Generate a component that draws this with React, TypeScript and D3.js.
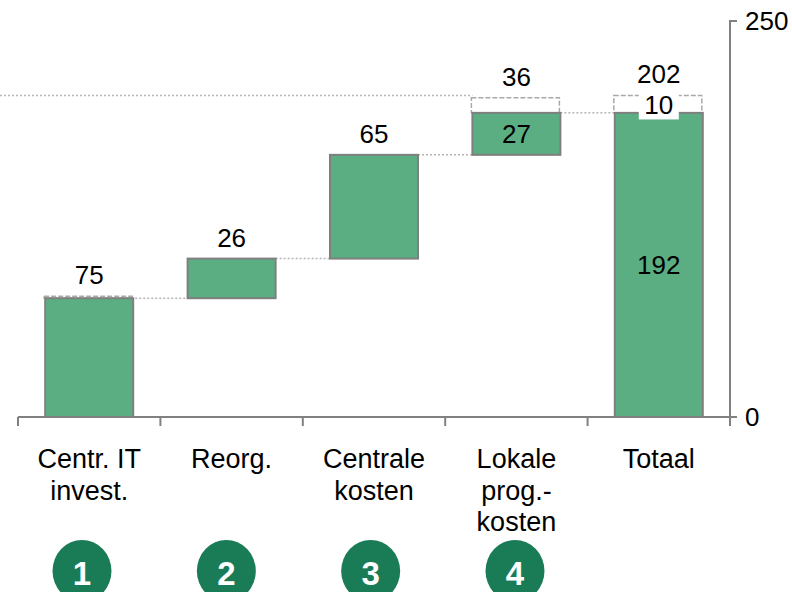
import React from "react";
import * as d3 from "d3";

const categories = ["Centr. IT\ninvest.", "Reorg.", "Centrale\nkosten", "Lokale\nprog.-\nkosten", "Totaal"];
const barStart = [0, 75, 100, 165.5, 0];
const barEnd = [75, 100, 165.5, 192, 192];
const dashEnd: (number | null)[] = [76.3, null, null, 201.6, 203];
const topLabels = ["75", "26", "65", "36", "202"];
const innerLabels: (string | null)[] = [null, null, null, "27", "192"];
const dashLabels: (string | null)[] = [null, null, null, null, "10"];
const yTicks = [0, 250];
const steps = ["1", "2", "3", "4"];

const W = 792;
const H = 592;
const FONT = "'Liberation Sans', Arial, sans-serif";
const GREEN = "#5aae82";
const DARK = "#1a7b57";

export default function App() {
  const y = d3.scaleLinear().domain([0, 250]).range([417, 21]);
  const x = d3
    .scaleBand<string>()
    .domain(categories)
    .range([18, 730])
    .paddingInner(0.382)
    .paddingOuter(0.191);
  const bw = x.bandwidth();
  const step = x.step();
  const cx = (c: string) => (x(c) as number) + bw / 2;
  const circleX = d3.scalePoint<string>().domain(steps).range([82, 515]);

  const boundaries = d3.range(categories.length + 1).map((i) => 18 + i * step);

  const connectors = categories.slice(0, -1).map((c, i) => {
    const v = barEnd[i];
    const x1 = (x(c) as number) + bw;
    const x2 = x(categories[i + 1]) as number;
    return { x1: i === 0 ? x1 - 2 : x1, x2, yv: v };
  });

  return (
    <svg
      width={W}
      height={H}
      style={{ position: "absolute", left: 0, top: 0, background: "#fff" }}
      fontFamily={FONT}
    >
      <line
        x1={0}
        x2={x(categories[3]) as number}
        y1={y(203)}
        y2={y(203)}
        stroke="#b5b5b5"
        strokeWidth={1.5}
        strokeDasharray="2 2"
      />
      {connectors.map((d, i) => (
        <line
          key={"c" + i}
          x1={d.x1}
          x2={d.x2}
          y1={y(d.yv)}
          y2={y(d.yv)}
          stroke="#b5b5b5"
          strokeWidth={1.5}
          strokeDasharray="2 2"
        />
      ))}
      {categories.map((c, i) =>
        dashEnd[i] != null ? (
          <rect
            key={"d" + i}
            x={(x(c) as number) - 1}
            width={bw}
            y={y(dashEnd[i] as number)}
            height={y(barEnd[i]) - y(dashEnd[i] as number)}
            fill="none"
            stroke="#a9a9a9"
            strokeWidth={1.5}
            strokeDasharray="5 2"
          />
        ) : null
      )}
      {categories.map((c, i) => (
        <rect
          key={"b" + i}
          x={x(c) as number}
          width={bw}
          y={y(barEnd[i])}
          height={y(barStart[i]) - y(barEnd[i])}
          fill={GREEN}
          stroke="#7f7f7f"
          strokeWidth={2}
        />
      ))}
      <line x1={18} x2={734} y1={y(0)} y2={y(0)} stroke="#808080" strokeWidth={2} />
      {boundaries.map((b, i) => (
        <line key={"t" + i} x1={b} x2={b} y1={y(0)} y2={y(0) + 9} stroke="#808080" strokeWidth={2} />
      ))}
      <line x1={730} x2={730} y1={y(0)} y2={y(250)} stroke="#808080" strokeWidth={2} />
      {yTicks.map((t) => (
        <g key={"y" + t}>
          <line x1={729} x2={737} y1={y(t)} y2={y(t)} stroke="#808080" strokeWidth={2} />
          <text x={745} y={y(t)} dy="0.35em" fontSize={26} fill="#000">
            {t}
          </text>
        </g>
      ))}
      {categories.map((c, i) => (
        <text
          key={"l" + i}
          x={cx(c)}
          y={y(dashEnd[i] != null ? (dashEnd[i] as number) : barEnd[i]) - 12}
          textAnchor="middle"
          fontSize={26}
          fill="#000"
        >
          {topLabels[i]}
        </text>
      ))}
      {categories.map((c, i) =>
        innerLabels[i] ? (
          <text
            key={"i" + i}
            x={cx(c)}
            y={(y(barStart[i]) + y(barEnd[i])) / 2}
            dy="0.35em"
            textAnchor="middle"
            fontSize={26}
            fill="#000"
          >
            {innerLabels[i]}
          </text>
        ) : null
      )}
      {categories.map((c, i) =>
        dashLabels[i] ? (
          <g key={"dl" + i}>
            <rect x={cx(c) - 20} y={y(dashEnd[i] as number) - 5} width={40} height={29} fill="#fff" />
            <text
              x={cx(c)}
              y={(y(barEnd[i]) + y(dashEnd[i] as number)) / 2 + 1}
              dy="0.35em"
              textAnchor="middle"
              fontSize={26}
              fill="#000"
            >
              {dashLabels[i]}
            </text>
          </g>
        ) : null
      )}
      {categories.map((c) => (
        <text key={"cat" + c} x={cx(c)} y={468} textAnchor="middle" fontSize={27} fill="#000">
          {c.split("\n").map((line, j) => (
            <tspan key={j} x={cx(c)} dy={j === 0 ? 0 : 31.5}>
              {line}
            </tspan>
          ))}
        </text>
      ))}
      {steps.map((s) => (
        <g key={"s" + s}>
          <ellipse cx={circleX(s) as number} cy={571} rx={29.5} ry={31} fill={DARK} />
          <text
            x={circleX(s) as number}
            y={573}
            dy="0.36em"
            textAnchor="middle"
            fontSize={33}
            fontWeight="bold"
            fill="#fff"
          >
            {s}
          </text>
        </g>
      ))}
    </svg>
  );
}
